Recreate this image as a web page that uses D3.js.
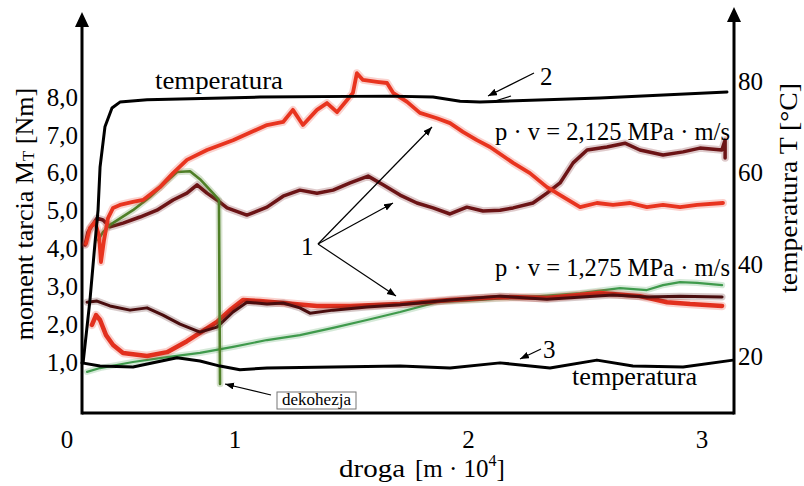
<!DOCTYPE html>
<html lang="pl">
<head>
<meta charset="UTF-8">
<title>Moment tarcia i temperatura</title>
<script src="https://cdn.jsdelivr.net/npm/d3@7"></script>
<style>
  body, html { margin: 0; padding: 0; background: #fff; }
  svg { display: block; font-family: "Liberation Serif", "DejaVu Serif", serif; }
</style>
</head>
<body>
<svg id="chart" width="804" height="486"></svg>
<script>
// droga [m*10^4] -> moment tarcia [Nm] / temperatura [C]
const xTicks = [0, 1, 2, 3];
const momentTicks = [1, 2, 3, 4, 5, 6, 7, 8];
const tempTicks = [20, 40, 60, 80];

// p*v = 2,125 MPa*m/s
const redHigh = [[0.026,4.12],[0.052,4.54],[0.085,4.70],[0.111,4.35],[0.124,3.64],[0.144,4.22],[0.170,4.80],
  [0.203,5.07],[0.248,5.15],[0.333,5.23],[0.399,5.28],[0.510,5.62],[0.595,5.99],[0.686,6.34],[0.817,6.60],
  [0.987,6.86],[1.137,7.26],[1.206,7.34],[1.248,7.66],[1.291,7.26],[1.351,7.66],[1.394,7.84],[1.437,7.60],
  [1.480,7.92],[1.505,8.11],[1.522,8.63],[1.548,8.45],[1.608,8.40],[1.651,8.37],[1.677,8.11],[1.737,7.87],
  [1.792,7.58],[1.865,7.44],[1.921,7.31],[1.976,7.08],[2.036,6.86],[2.092,6.68],[2.191,6.26],[2.263,5.99],
  [2.336,5.62],[2.405,5.36],[2.478,5.09],[2.550,5.20],[2.619,5.15],[2.692,5.20],[2.764,5.09],[2.833,5.15],
  [2.906,5.09],[2.979,5.15],[3.090,5.20]];
const maroonHigh = [[0.020,4.09],[0.039,4.43],[0.098,4.80],[0.137,4.75],[0.183,4.57],[0.268,4.67],[0.379,4.83],
  [0.490,5.01],[0.595,5.28],[0.686,5.46],[0.752,5.68],[0.817,5.46],[0.882,5.28],[0.948,5.07],[1.051,4.88],
  [1.137,5.09],[1.206,5.38],[1.278,5.54],[1.351,5.46],[1.420,5.54],[1.493,5.73],[1.570,5.91],[1.634,5.68],
  [1.707,5.41],[1.779,5.20],[1.848,5.07],[1.921,4.91],[1.993,5.09],[2.062,4.99],[2.135,5.01],[2.191,5.07],
  [2.276,5.20],[2.336,5.46],[2.392,5.73],[2.448,6.26],[2.508,6.60],[2.593,6.68],[2.670,6.78],[2.734,6.60],
  [2.833,6.47],[2.919,6.55],[2.991,6.65],[3.085,6.60],[3.099,6.86],[3.099,6.39]];
const greenHigh = [[0.105,4.22],[0.137,4.43],[0.183,4.62],[0.333,5.01],[0.444,5.36],[0.556,5.78],[0.621,6.02],
  [0.706,6.04],[0.771,5.83],[0.856,5.46],[0.895,5.28],[0.902,0.42]];

// p*v = 1,275 MPa*m/s
const redLow = [[0.065,1.98],[0.092,2.24],[0.118,2.11],[0.157,1.71],[0.203,1.45],[0.268,1.24],[0.425,1.16],
  [0.556,1.26],[0.686,1.55],[0.791,1.82],[0.882,2.06],[0.967,2.37],[1.034,2.64],[1.107,2.61],[1.206,2.56],
  [1.351,2.48],[1.493,2.48],[1.707,2.53],[1.921,2.64],[2.135,2.72],[2.336,2.69],[2.563,2.82],[2.734,2.74],
  [2.850,2.58],[2.949,2.53],[3.086,2.48]];
const maroonLow = [[0.033,2.58],[0.098,2.61],[0.183,2.48],[0.314,2.37],[0.425,2.43],[0.529,2.24],[0.641,2.00],
  [0.771,1.79],[0.882,1.92],[0.987,2.32],[1.051,2.58],[1.137,2.53],[1.206,2.56],[1.278,2.43],[1.321,2.29],
  [1.420,2.37],[1.565,2.45],[1.707,2.51],[1.921,2.64],[2.135,2.74],[2.336,2.66],[2.619,2.77],[2.764,2.72],
  [2.906,2.74],[3.086,2.72]];
const greenLow = [[0.033,0.74],[0.118,0.84],[0.333,1.00],[0.556,1.13],[0.771,1.24],[0.987,1.40],[1.137,1.58],
  [1.278,1.71],[1.420,1.90],[1.565,2.11],[1.707,2.32],[1.865,2.58],[2.049,2.64],[2.306,2.74],[2.478,2.82],
  [2.649,2.95],[2.764,2.90],[2.833,3.03],[2.906,3.11],[2.979,3.09],[3.086,3.03]];

// temperature curves (right axis)
const temp2 = [[0.007,18.5],[0.052,32.2],[0.085,44.7],[0.105,51.9],[0.118,61.2],[0.150,70.0],[0.196,74.1],
  [0.248,75.4],[0.425,75.9],[1.107,76.5],[1.664,76.7],[1.848,76.5],[1.964,75.6],[2.049,75.4],[2.563,76.3],[3.107,77.6]];
const temp3 = [[0,18.5],[0.118,17.8],[0.333,17.6],[0.621,19.6],[0.771,18.9],[0.902,17.8],[1.021,17.0],[1.137,17.4],
  [1.707,17.8],[1.921,17.4],[2.135,18.5],[2.349,17.4],[2.55,19.1],[2.704,17.8],[2.919,17.6],[3.133,19.1]];

const svg = d3.select('#chart');

// plot frame
const left = 82, right = 734, bottom = 413;

// x axis is not uniform between 0 and 1 in the original
const x = d3.scaleLinear().domain([0, 1, 3]).range([82, 235, 702]);
const yM = d3.scaleLinear().domain([1, 8]).range([362, 97]);
const yT = d3.scaleLinear().domain([20, 80]).range([356, 81]);

const momentLine = d3.line().x(d => x(d[0])).y(d => yM(d[1]));
const tempLine = d3.line().x(d => x(d[0])).y(d => yT(d[1]));

svg.append('defs').append('marker')
  .attr('id', 'arr').attr('markerUnits', 'userSpaceOnUse')
  .attr('markerWidth', 10).attr('markerHeight', 8)
  .attr('refX', 9).attr('refY', 3.5).attr('orient', 'auto')
  .append('path').attr('d', 'M0,0 L9,3.5 L0,7 z').attr('fill', '#000');

// axes frame
const frame = svg.append('g').attr('stroke', '#000').attr('fill', 'none');
frame.append('line').attr('x1', left).attr('y1', bottom + 1.5).attr('x2', left).attr('y2', 22).attr('stroke-width', 3);
frame.append('line').attr('x1', right).attr('y1', bottom + 1.5).attr('x2', right).attr('y2', 18).attr('stroke-width', 3);
frame.append('line').attr('x1', left).attr('y1', bottom).attr('x2', right).attr('y2', bottom).attr('stroke-width', 3);
svg.append('path').attr('d', `M${left},12 L${left - 7},27 L${left + 7},27 Z`).attr('fill', '#000');
svg.append('path').attr('d', `M${right},7 L${right - 7},22 L${right + 7},22 Z`).attr('fill', '#000');

// tick labels
const fmt = d => d3.format('.1f')(d).replace('.', ',');
svg.append('g').selectAll('text').data(momentTicks).join('text')
  .attr('x', 78).attr('y', d => yM(d)).attr('dy', '0.35em')
  .attr('text-anchor', 'end').attr('font-size', 25).text(fmt);
svg.append('g').selectAll('text').data(tempTicks).join('text')
  .attr('x', 738).attr('y', d => yT(d)).attr('dy', '0.35em')
  .attr('font-size', 25).text(d => d);
svg.append('g').selectAll('text').data(xTicks).join('text')
  .attr('x', d => x(d) + (d === 0 ? -15 : 0)).attr('y', 448)
  .attr('text-anchor', 'middle').attr('font-size', 25).text(d => d);

// axis titles
const lt = svg.append('text').attr('transform', 'translate(33,214) rotate(-90)')
  .attr('text-anchor', 'middle').attr('font-size', 26);
lt.append('tspan').text('moment tarcia M');
lt.append('tspan').attr('font-size', 17).attr('dy', 1).text('T');
lt.append('tspan').attr('dy', -1).text(' [Nm]');

svg.append('text').attr('transform', 'translate(797,188) rotate(-90)')
  .attr('text-anchor', 'middle').attr('font-size', 25)
  .attr('textLength', 210).attr('lengthAdjust', 'spacingAndGlyphs')
  .text('temperatura  T [°C]');

svg.append('text').attr('x', 339).attr('y', 477).attr('font-size', 25)
  .attr('textLength', 66).attr('lengthAdjust', 'spacingAndGlyphs').text('droga');
const xt = svg.append('text').attr('x', 415).attr('y', 477).attr('font-size', 25);
xt.append('tspan').text('[m · 10');
xt.append('tspan').attr('font-size', 16).attr('dy', -11).text('4');
xt.append('tspan').attr('dy', 11).text(']');

// data curves
const curves = [
  { data: greenLow, line: momentLine, color: '#3f9a4c', width: 2.2 },
  { data: redLow, line: momentLine, color: '#e2301e', width: 4.5 },
  { data: maroonLow, line: momentLine, color: '#4a0d0e', width: 3 },
  { data: maroonHigh, line: momentLine, color: '#6c1416', width: 3.5 },
  { data: greenHigh, line: momentLine, color: '#4f7f27', width: 2.6 },
  { data: redHigh, line: momentLine, color: '#e8341f', width: 3.8 },
  { data: temp2, line: tempLine, color: '#000', width: 3 },
  { data: temp3, line: tempLine, color: '#000', width: 3 }
];
const cg = svg.append('g').attr('fill', 'none').attr('stroke-linejoin', 'round').attr('stroke-linecap', 'round');
curves.forEach(c => {
  if (c.color !== '#000') {
    cg.append('path').attr('d', c.line(c.data)).attr('stroke', c.color)
      .attr('stroke-width', c.width + 4).attr('stroke-opacity', 0.22);
  }
  cg.append('path').attr('d', c.line(c.data)).attr('stroke', c.color).attr('stroke-width', c.width);
});

// annotations
const arrows = [
  [534, 73, 488, 96],
  [318, 244, 432, 127],
  [318, 244, 393, 203],
  [318, 244, 396, 296],
  [541, 349, 520, 359],
  [271, 395, 225, 384]
];
svg.append('g').selectAll('line').data(arrows).join('line')
  .attr('x1', d => d[0]).attr('y1', d => d[1]).attr('x2', d => d[2]).attr('y2', d => d[3])
  .attr('stroke', '#000').attr('stroke-width', 1.2).attr('marker-end', 'url(#arr)');
svg.append('line').attr('x1', 495).attr('y1', 101).attr('x2', 511).attr('y2', 96)
  .attr('stroke', '#000').attr('stroke-width', 1.2);

const labels = [
  { t: 'temperatura', x: 155, y: 89, len: 128 },
  { t: '2', x: 540, y: 85 },
  { t: 'p · v = 2,125 MPa · m/s', x: 495, y: 140, len: 235 },
  { t: '1', x: 301, y: 255 },
  { t: 'p · v = 1,275 MPa · m/s', x: 495, y: 276, len: 235 },
  { t: '3', x: 543, y: 358 },
  { t: 'temperatura', x: 572, y: 385, len: 125 }
];
labels.forEach(l => {
  const t = svg.append('text').attr('x', l.x).attr('y', l.y).attr('font-size', 25).text(l.t);
  if (l.len) t.attr('textLength', l.len).attr('lengthAdjust', 'spacingAndGlyphs');
});

svg.append('rect').attr('x', 277).attr('y', 392).attr('width', 79).attr('height', 17)
  .attr('fill', '#fff').attr('stroke', '#777').attr('stroke-width', 1);
svg.append('text').attr('x', 282).attr('y', 405).attr('font-size', 16)
  .attr('textLength', 69).attr('lengthAdjust', 'spacingAndGlyphs').text('dekohezja');
</script>
</body>
</html>
